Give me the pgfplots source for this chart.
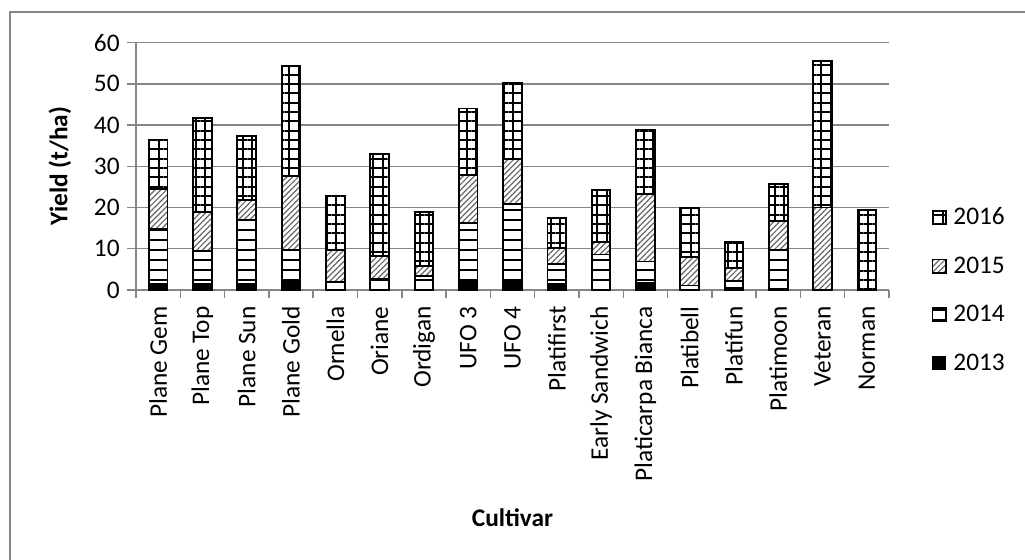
\documentclass[border=0pt]{standalone}
\usepackage{pgfplots}
\pgfplotsset{compat=1.18}
\usepackage{pgfplotstable}
\usetikzlibrary{patterns.meta}
\usepackage{fontspec}
\setmainfont{Carlito}

% yields per cultivar (t/ha), one column per year
\pgfplotstableread{
x y2013 y2014 y2015 y2016
0  1.5 13.3  9.7 12.0
1  1.5  7.9  9.5 22.7
2  1.5 15.6  4.8 15.5
3  1.9  7.7 18.0 26.7
4  0.0  2.0  7.7 13.2
5  0.0  2.8  5.5 24.7
6  0.0  3.3  2.6 13.1
7  2.1 14.1 11.6 16.2
8  2.4 18.5 10.9 18.5
9  1.5  4.8  3.9  7.2
10 0.0  8.6  3.0 12.7
11 1.8  5.1 16.3 15.7
12 0.0  1.1  7.0 11.7
13 0.5  1.6  3.2  6.4
14 0.3  9.3  7.2  8.8
15 0.0  0.0 20.0 35.5
16 0.0  0.0  0.0 19.5
}\yields

\definecolor{gridgray}{RGB}{134,134,134}

\begin{document}
\begin{tikzpicture}
\useasboundingbox (0,0) rectangle (768.75pt,-420pt);
\draw[gridgray, line width=1.2pt] (7.5pt,-420pt) -- (7.5pt,-9pt) -- (768.75pt,-9pt);
\begin{axis}[
    at={(102pt,-217.5pt)}, anchor=south west,
    scale only axis,
    width=564.75pt, height=185.6pt,
    ybar stacked,
    bar width=14pt,
    xmin=-0.5, xmax=16.5,
    ymin=0, ymax=60,
    ytick={0,10,...,60},
    xtick=data,
    xticklabels={Plane Gem,Plane Top,Plane Sun,Plane Gold,Ornella,Oriane,Ordigan,UFO 3,UFO 4,Platifirst,Early Sandwich,Platicarpa Bianca,Platibell,Platifun,Platimoon,Veteran,Norman},
    minor xtick={-0.5,0.5,...,16.5},
    axis x line*=bottom, axis y line*=left,
    axis line style={gridgray, line width=1.1pt, -},
    ymajorgrids, grid style={gridgray, line width=1.1pt},
    tick align=outside,
    major tick length=6.75pt, minor tick length=6pt,
    major x tick style={draw=none},
    minor x tick style={draw=gridgray, line width=1.1pt},
    ytick style={gridgray, line width=1.1pt},
    tick label style={font=\fontsize{19}{20}\selectfont},
    /pgf/number format/assume math mode=true,
    yticklabel style={xshift=-2pt},
    xticklabel style={rotate=90, anchor=east, xshift=-2pt},
    ylabel={\textbf{Yield (t/ha)}},
    ylabel style={at={(axis description cs:0,0.5)}, anchor=center, yshift=57pt, font=\fontsize{19}{20}\selectfont},
    xlabel={\textbf{Cultivar}},
    xlabel style={at={(axis description cs:0.5,0)}, anchor=center, yshift=-171pt, font=\fontsize{19}{20}\selectfont},
    reverse legend,
    legend style={at={(axis description cs:1,0)}, anchor=west, xshift=32pt, draw=none,
        font=\fontsize{19}{20}\selectfont, row sep=18.5pt, inner sep=0pt},
    legend cell align=left,
    leg/.style={legend image code/.code={\draw[##1, line width=0.8pt] (0pt,-5pt) rectangle (10pt,5pt); \path (13pt,0pt);}},
]
\addplot[draw=black, line width=1.4pt, fill=black, leg] table[x=x, y=y2013] {\yields};
\addlegendentry{2013}
\addplot[draw=black, line width=1.4pt, preaction={fill=white},
    pattern={Lines[angle=0, distance=7.5pt, line width=1.5pt]}, pattern color=black, leg] table[x=x, y=y2014] {\yields};
\addlegendentry{2014}
\addplot[draw=black, line width=1.4pt, preaction={fill=white},
    pattern={Lines[angle=45, distance=3pt, line width=0.9pt]}, pattern color=black!60, leg] table[x=x, y=y2015] {\yields};
\addlegendentry{2015}
\addplot[draw=black, line width=1.4pt, preaction={fill=white},
    pattern={Hatch[angle=0, distance=7pt, line width=1.5pt]}, pattern color=black, leg] table[x=x, y=y2016] {\yields};
\addlegendentry{2016}
\end{axis}
\end{tikzpicture}
\end{document}
